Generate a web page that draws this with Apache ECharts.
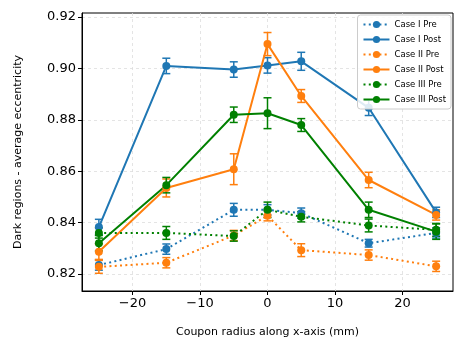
<!DOCTYPE html>
<html>
<head>
<meta charset="utf-8">
<script src="https://cdn.jsdelivr.net/npm/echarts@6/dist/echarts.min.js"></script>
<style>
  html, body { margin: 0; padding: 0; background: #fff; }
  #chart { width: 465px; height: 350px; }
</style>
</head>
<body>
<div id="chart"></div>
<script>
var radius = [-25, -15, -5, 0, 5, 15, 25];

var case1Pre = [0.8235, 0.8297, 0.8450, 0.8450, 0.8437, 0.8320, 0.8360];
var case1PreErr = [0.0020, 0.0020, 0.0025, 0.0020, 0.0020, 0.0015, 0.0020];
var case1Post = [0.8383, 0.9010, 0.8996, 0.9012, 0.9028, 0.8847, 0.8440];
var case1PostErr = [0.0030, 0.0030, 0.0030, 0.0030, 0.0035, 0.0030, 0.0020];

var case2Pre = [0.8228, 0.8244, 0.8350, 0.8427, 0.8293, 0.8274, 0.8230];
var case2PreErr = [0.0025, 0.0020, 0.0020, 0.0020, 0.0025, 0.0020, 0.0020];
var case2Post = [0.8287, 0.8535, 0.8608, 0.9095, 0.8893, 0.8566, 0.8430];
var case2PostErr = [0.0030, 0.0035, 0.0060, 0.0045, 0.0025, 0.0030, 0.0020];

var case3Pre = [0.8360, 0.8360, 0.8348, 0.8450, 0.8423, 0.8389, 0.8372];
var case3PreErr = [0.0020, 0.0025, 0.0020, 0.0030, 0.0020, 0.0025, 0.0025];
var case3Post = [0.8320, 0.8546, 0.8820, 0.8826, 0.8780, 0.8450, 0.8365];
var case3PostErr = [0.0030, 0.0030, 0.0030, 0.0060, 0.0025, 0.0030, 0.0030];

var xTicks = [-20, -10, 0, 10, 20];
var yTicks = [0.82, 0.84, 0.86, 0.88, 0.90, 0.92];

var blue = '#1f77b4', orange = '#ff7f0e', green = '#008000';

var cases = [
  { name: 'Case I Pre', vals: case1Pre, err: case1PreErr, color: blue, dotted: true },
  { name: 'Case I Post', vals: case1Post, err: case1PostErr, color: blue, dotted: false },
  { name: 'Case II Pre', vals: case2Pre, err: case2PreErr, color: orange, dotted: true },
  { name: 'Case II Post', vals: case2Post, err: case2PostErr, color: orange, dotted: false },
  { name: 'Case III Pre', vals: case3Pre, err: case3PreErr, color: green, dotted: true },
  { name: 'Case III Post', vals: case3Post, err: case3PostErr, color: green, dotted: false }
];

var font = 'DejaVu Sans';
var series = [];

cases.forEach(function (c) {
  var errData = radius.map(function (x, i) {
    return [x, c.vals[i] - c.err[i], c.vals[i] + c.err[i]];
  });
  series.push({
    type: 'custom',
    name: c.name + ' err',
    data: errData,
    encode: { x: 0, y: [1, 2] },
    z: 2,
    silent: true,
    itemStyle: { color: c.color },
    renderItem: function (params, api) {
      var lo = api.coord([api.value(0), api.value(1)]);
      var hi = api.coord([api.value(0), api.value(2)]);
      var w = 4;
      var st = { stroke: c.color, lineWidth: 1.5 };
      return {
        type: 'group',
        children: [
          { type: 'line', shape: { x1: lo[0], y1: lo[1], x2: hi[0], y2: hi[1] }, style: st },
          { type: 'line', shape: { x1: lo[0] - w, y1: lo[1], x2: lo[0] + w, y2: lo[1] }, style: st },
          { type: 'line', shape: { x1: hi[0] - w, y1: hi[1], x2: hi[0] + w, y2: hi[1] }, style: st }
        ]
      };
    }
  });
  series.push({
    type: 'line',
    name: c.name,
    data: radius.map(function (x, i) { return [x, c.vals[i]]; }),
    symbol: 'circle',
    symbolSize: 8,
    showSymbol: true,
    z: 3,
    itemStyle: { color: c.color },
    lineStyle: { color: c.color, width: 2, type: c.dotted ? [2, 3.3] : 'solid' }
  });
});

var myChart = echarts.init(document.getElementById('chart'));
var option = {
  animation: false,
  textStyle: { fontFamily: font },
  grid: {
    left: 82, right: 12, top: 13, bottom: 59,
    show: true, borderColor: '#000', borderWidth: 1
  },
  legend: {
    data: cases.map(function (c) { return c.name; }),
    orient: 'vertical',
    right: 14,
    top: 15,
    itemWidth: 26,
    itemHeight: 9,
    itemGap: 6,
    padding: [5, 5, 5, 5],
    backgroundColor: 'rgba(255,255,255,0.85)',
    borderColor: '#ccc',
    borderWidth: 1,
    borderRadius: 3,
    textStyle: { fontFamily: font, fontSize: 8.5, color: '#000' }
  },
  xAxis: {
    type: 'value',
    min: -27.5,
    max: 27.5,
    name: 'Coupon radius along x-axis (mm)',
    nameLocation: 'middle',
    nameGap: 36,
    nameTextStyle: { fontFamily: font, fontSize: 11, color: '#000' },
    axisLine: { show: true, onZero: false, lineStyle: { color: '#000', width: 1 } },
    axisTick: { show: true, customValues: xTicks, length: 4, lineStyle: { color: '#000' } },
    axisLabel: {
      customValues: xTicks,
      fontFamily: font, fontSize: 13, color: '#000', margin: 6,
      formatter: function (v) { return String(v).replace('-', '\u2212'); }
    },
    splitLine: { show: true, lineStyle: { color: '#ddd', type: [3, 3], width: 0.8 } }
  },
  yAxis: {
    type: 'value',
    min: 0.8134,
    max: 0.9216,
    name: 'Dark regions - average eccentricity',
    nameLocation: 'middle',
    nameGap: 58,
    nameTextStyle: { fontFamily: font, fontSize: 11, color: '#000' },
    axisLine: { show: true, onZero: false, lineStyle: { color: '#000', width: 1 } },
    axisTick: { show: true, customValues: yTicks, length: 4, lineStyle: { color: '#000' } },
    axisLabel: {
      customValues: yTicks,
      fontFamily: font, fontSize: 13, color: '#000', margin: 6,
      formatter: function (v) { return v.toFixed(2); }
    },
    splitLine: { show: true, lineStyle: { color: '#ddd', type: [3, 3], width: 0.8 } }
  },
  series: series
};
myChart.setOption(option);
</script>
</body>
</html>
